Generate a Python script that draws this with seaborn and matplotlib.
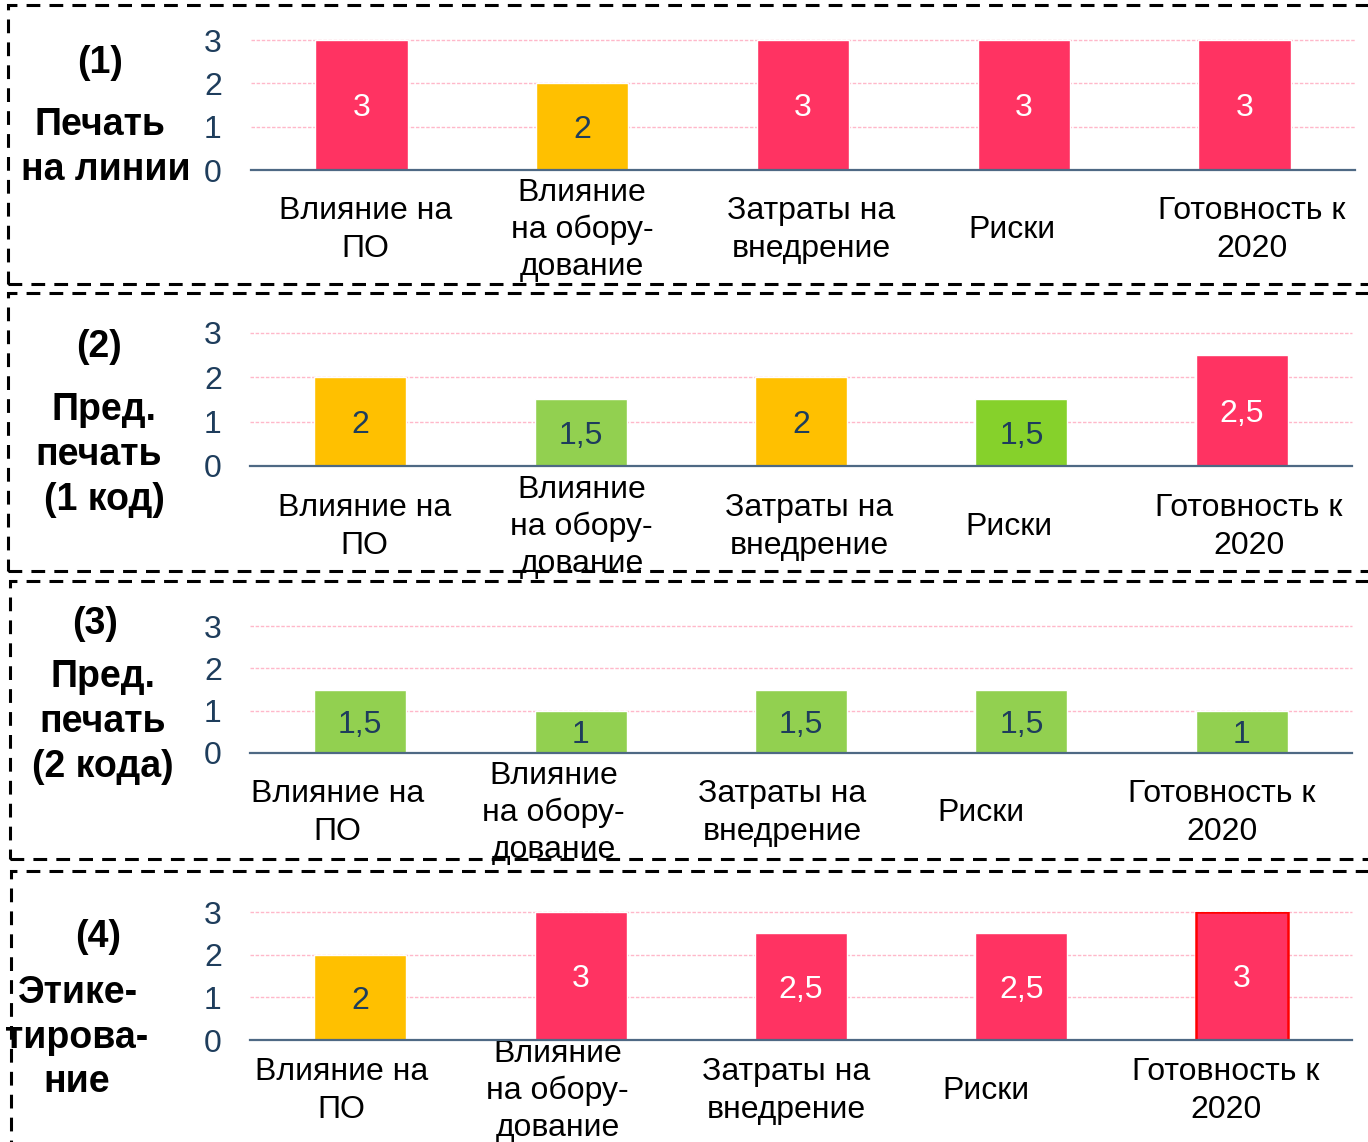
import matplotlib
matplotlib.use("Agg")
import matplotlib.pyplot as plt
import matplotlib.transforms as mtransforms
from matplotlib.patches import Rectangle
import seaborn as sns
import pandas as pd

# ---------------- data ----------------
categories = ["Влияние на\nПО", "Влияние\nна обору-\nдование", "Затраты на\nвнедрение",
              "Риски", "Готовность к\n2020"]
yticks = [0, 1, 2, 3]

title_p1 = ["(1)", "Печать", "на линии"]
title_p2 = ["(2)", "Пред.", "печать", "(1 код)"]
title_p3 = ["(3)", "Пред.", "печать", "(2 кода)"]
title_p4 = ["(4)", "Этике-", "тирова-", "ние"]

values_p1 = [3, 2, 3, 3, 3]
values_p2 = [2, 1.5, 2, 1.5, 2.5]
values_p3 = [1.5, 1, 1.5, 1.5, 1]
values_p4 = [2, 3, 2.5, 2.5, 3]

RED = "#FF3362"
YEL = "#FFC000"
GRN = "#92D050"
GRN2 = "#86D12B"
colors_p1 = [RED, YEL, RED, RED, RED]
colors_p2 = [YEL, GRN, YEL, GRN2, RED]
colors_p3 = [GRN, GRN, GRN, GRN, GRN]
colors_p4 = [YEL, RED, RED, RED, RED]

# ---------------- style ----------------
sns.set_theme(style="white")
plt.rcParams["font.family"] = ["Liberation Sans", "DejaVu Sans"]

W, H = 1368, 1142
fig = plt.figure(figsize=(W / 100, H / 100), dpi=100)

NAVY = "#1E3D5C"
BASE = "#4E6984"
GRID = "#FFB8CA"

panels = [
    dict(vals=values_p1, cols=colors_p1, title=title_p1, px=(251, 1355, 40, 170),
         ldx=[4, 0, 8, -12, 7], ldy=60,
         tpos=[(100, 63), (100, 125), (106, 170)], edge=None),
    dict(vals=values_p2, cols=colors_p2, title=title_p2, px=(250, 1352, 333, 466),
         ldx=[4, 1, 8, -12, 7], ldy=61,
         tpos=[(99, 347), (104, 410), (99, 455), (104, 500)], edge=None),
    dict(vals=values_p3, cols=colors_p3, title=title_p3, px=(250, 1352, 626, 753),
         ldx=[-23, -27, -19, -40, -20], ldy=60,
         tpos=[(95, 624), (103, 677), (103, 722), (103, 767)], edge=None),
    dict(vals=values_p4, cols=colors_p4, title=title_p4, px=(250, 1352, 912, 1040),
         ldx=[-19, -23, -15, -35, -16], ldy=51,
         tpos=[(98, 937), (78, 993), (77, 1038), (77, 1082)], edge=4),
]


def fmt(v):
    return f"{v:g}".replace(".", ",")


for p in panels:
    x0, x1, yt, yb = p["px"]
    ax = fig.add_axes([x0 / W, 1 - yb / H, (x1 - x0) / W, (yb - yt) / H])
    ax.set_facecolor("none")
    df = pd.DataFrame({"cat": categories, "val": p["vals"]})
    sns.barplot(data=df, x="cat", y="val", hue="cat", palette=p["cols"],
                legend=False, width=0.418, saturation=1, ax=ax, zorder=3)
    ax.set_ylim(0, 3.0)
    ax.set_xlim(-0.5, len(categories) - 0.5)
    ax.set_yticks(yticks)
    ax.set_yticklabels([str(t) for t in yticks])
    ax.set_xlabel("")
    ax.set_ylabel("")
    for gy in yticks[1:]:
        ax.axhline(gy, color=GRID, lw=1.0, ls=(0, (2.5, 1.2)), zorder=1, clip_on=False)
    for s in ["top", "right", "left"]:
        ax.spines[s].set_visible(False)
    ax.spines["bottom"].set_color(BASE)
    ax.spines["bottom"].set_linewidth(1.6)
    ax.spines["bottom"].set_zorder(4)
    ax.tick_params(axis="y", length=0, pad=(x0 - 213) * 0.72, labelsize=23, labelcolor=NAVY)
    ax.tick_params(axis="x", length=0, pad=p["ldy"] * 0.72, labelsize=23, labelcolor="black")
    for lbl in ax.get_yticklabels():
        lbl.set_horizontalalignment("center")
    for i, lbl in enumerate(ax.get_xticklabels()):
        lbl.set_verticalalignment("center")
        lbl.set_linespacing(1.31)
        off = mtransforms.ScaledTranslation(p["ldx"][i] / 100, 0, fig.dpi_scale_trans)
        lbl.set_transform(lbl.get_transform() + off)
    for i, cont in enumerate(ax.containers):
        for bar in cont:
            h = bar.get_height()
            txtcol = "white" if p["cols"][i] == RED else NAVY
            ax.annotate(fmt(h), (bar.get_x() + bar.get_width() / 2, h / 2),
                        xytext=(0, -2.5), textcoords="offset points",
                        ha="center", va="center", color=txtcol, fontsize=23, zorder=5)
            if p["edge"] == i:
                bar.set_edgecolor("#FF0000")
                bar.set_linewidth(1.8)
    for t, (tx, ty) in zip(p["title"], p["tpos"]):
        fig.text(tx / W, 1 - ty / H, t, ha="center", va="center",
                 fontsize=27, fontweight="bold", color="black")

# dashed frames
boxes = [(8, 5, 284), (8, 293, 571), (10, 581, 859), (11, 871, 1160)]
for bx, top, bot in boxes:
    r = Rectangle((bx / W, 1 - bot / H), (W + 40 - bx) / W, (bot - top) / H,
                  transform=fig.transFigure, fill=False, edgecolor="black",
                  lw=2.2, ls=(0, (4.5, 3)), zorder=10, clip_on=False)
    fig.patches.append(r)

fig.savefig("out.png", dpi=100, facecolor="white")
